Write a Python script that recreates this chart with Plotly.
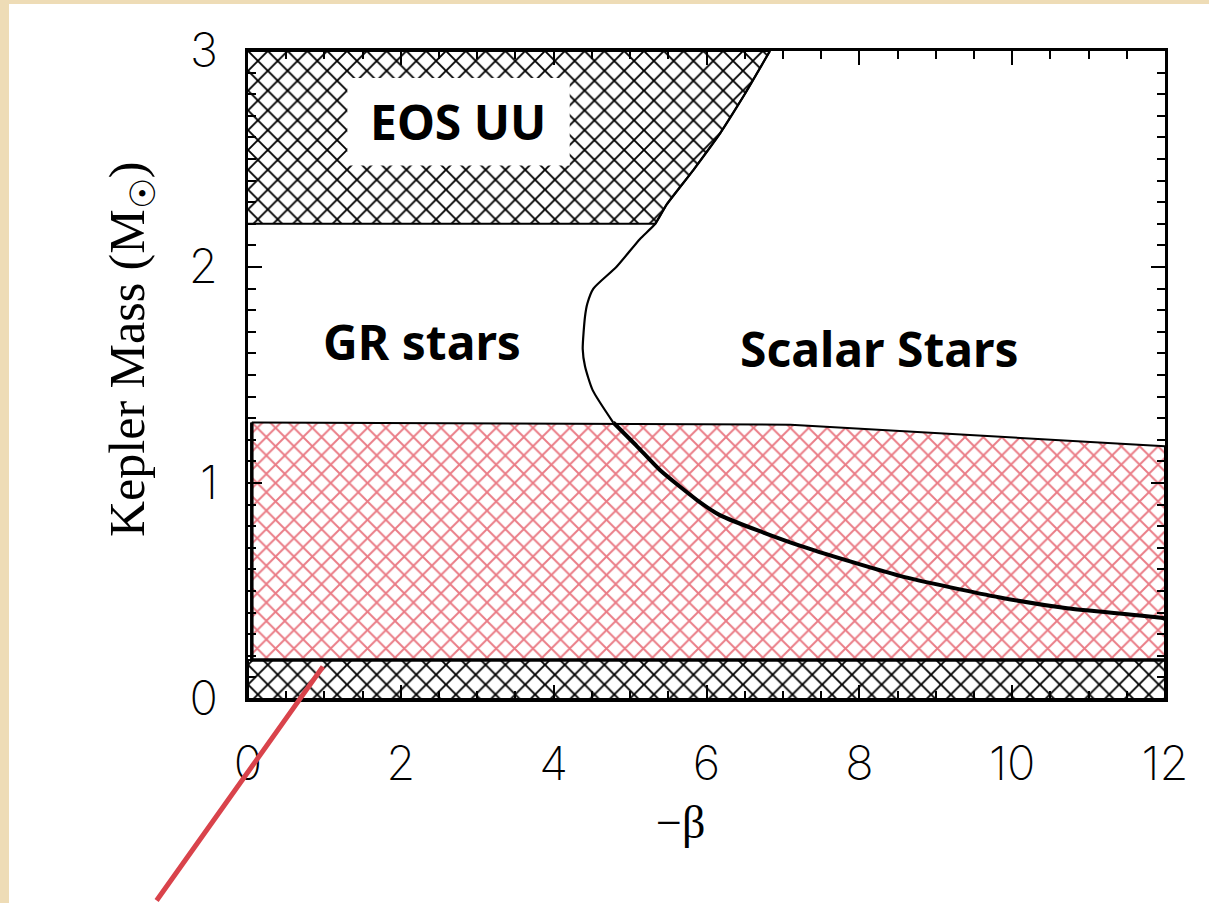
import numpy as np
import plotly.graph_objects as go

# ---- data ----
# GR / scalar-star boundary, upper (thin) branch
boundary_beta = [6.83, 6.50, 6.18, 5.83, 5.48, 5.33, 5.13, 4.82, 4.52, 4.44, 4.41, 4.38, 4.41, 4.51, 4.78]
boundary_mass = [3.00, 2.80, 2.62, 2.45, 2.29, 2.20, 2.13, 2.00, 1.90, 1.83, 1.77, 1.62, 1.54, 1.43, 1.28]
# lower (thick) branch
scalar_beta = [4.78, 5.09, 5.39, 5.88, 6.18, 7.22, 8.53, 9.84, 10.72, 11.97, 12.0]
scalar_mass = [1.28, 1.17, 1.06, 0.92, 0.85, 0.71, 0.57, 0.47, 0.42, 0.375, 0.37]
# observed-mass band (red hatch)
obs_beta_top = [0.05, 7.1, 12.0]
obs_mass_top = [1.28, 1.27, 1.17]
obs_mass_low = 0.18
# excluded by EOS (top) and lower limit (bottom band)
eos_mass_min = 2.2
eos_mass_max = 3.0
low_band_mass = 0.18

x_ticks = [0, 2, 4, 6, 8, 10, 12]
y_ticks = [0, 1, 2, 3]

# ---- figure ----
fig = go.Figure()

bb = np.array(boundary_beta)
bm = np.array(boundary_mass)
mask = bm >= eos_mass_min
eos_x = [0.0] + list(bb[mask]) + [0.0]
eos_y = [eos_mass_max] + list(bm[mask]) + [eos_mass_min]

black_pat = dict(shape="x", fgcolor="black", fgopacity=1, bgcolor="white",
                 size=14, solidity=0.25)
red_pat = dict(shape="x", fgcolor="#ea7c86", fgopacity=1, bgcolor="white",
               size=13, solidity=0.27)

# EOS UU hatched region
fig.add_trace(go.Scatter(x=eos_x, y=eos_y, mode="lines", fill="toself",
                         fillpattern=black_pat, line=dict(color="black", width=2),
                         showlegend=False, hoverinfo="skip"))
# bottom hatched band
fig.add_trace(go.Scatter(x=[0, 12, 12, 0, 0], y=[0, 0, low_band_mass, low_band_mass, 0],
                         mode="lines", fill="toself", fillpattern=black_pat,
                         line=dict(color="black", width=2),
                         showlegend=False, hoverinfo="skip"))
# red observed-mass region
rx = list(obs_beta_top) + [obs_beta_top[-1], obs_beta_top[0], obs_beta_top[0]]
ry = list(obs_mass_top) + [obs_mass_low, obs_mass_low, obs_mass_top[0]]
fig.add_trace(go.Scatter(x=rx, y=ry, mode="lines", fill="toself", fillpattern=red_pat,
                         line=dict(color="black", width=2),
                         showlegend=False, hoverinfo="skip"))
# thicker left/bottom edges of the red region
fig.add_trace(go.Scatter(x=[obs_beta_top[0], obs_beta_top[0], obs_beta_top[-1]],
                         y=[obs_mass_top[0], obs_mass_low, obs_mass_low], mode="lines",
                         line=dict(color="black", width=3.5),
                         showlegend=False, hoverinfo="skip"))
# boundary curves
fig.add_trace(go.Scatter(x=boundary_beta, y=boundary_mass, mode="lines",
                         line=dict(color="black", width=2.2, shape="spline", smoothing=0.6),
                         showlegend=False, hoverinfo="skip"))
fig.add_trace(go.Scatter(x=scalar_beta, y=scalar_mass, mode="lines",
                         line=dict(color="black", width=4, shape="spline", smoothing=0.6),
                         showlegend=False, hoverinfo="skip"))

# white box behind EOS UU
fig.add_shape(type="rect", xref="x", yref="y", x0=1.30, x1=4.21, y0=2.47, y1=2.875,
              fillcolor="white", line=dict(width=0), layer="above")
# white page over beige background
fig.add_shape(type="rect", xref="paper", yref="paper", x0=(9 - 248) / 917, x1=1.2,
              y0=-0.5, y1=(699 - 4) / 648, fillcolor="white", line=dict(width=0), layer="below")

lab_font = dict(family="Noto Sans, DejaVu Sans", size=48, color="black", weight="bold")
fig.add_annotation(x=2.75, y=2.674, xref="x", yref="y", text="EOS UU", showarrow=False,
                   font=dict(lab_font, size=48))
fig.add_annotation(x=2.28, y=1.653, xref="x", yref="y", text="GR stars", showarrow=False,
                   font=lab_font)
fig.add_annotation(x=8.27, y=1.625, xref="x", yref="y", text="Scalar Stars", showarrow=False,
                   font=lab_font)

# axis titles
title_font = dict(family="Liberation Serif, Times New Roman, serif", size=50, color="black")
fig.add_annotation(x=(97 - 248) / 917, y=(699 - 350) / 648, xref="paper", yref="paper",
                   text="Kepler Mass (M<sub>☉</sub>)", textangle=-90, showarrow=False,
                   font=title_font)
fig.add_annotation(x=(680 - 248) / 917, y=(699 - 850) / 648, xref="paper", yref="paper",
                   text="−β", showarrow=False, font=dict(title_font, size=46))

# red pointer line
fig.add_annotation(x=0.98, y=0.15, xref="x", yref="y", ax=-1.21, ay=-0.94,
                   axref="x", ayref="y", text="", showarrow=True, arrowhead=0,
                   arrowwidth=5, arrowcolor="#d9434b", standoff=0, startstandoff=0)

tick_font = dict(family="Inter, Roboto, Liberation Sans", size=47, color="black", weight=200)
fig.update_xaxes(range=[0, 12], tickvals=x_ticks, ticktext=[str(v) for v in x_ticks],
                 showline=True, linecolor="black", linewidth=2.5, mirror="ticks",
                 ticks="inside", ticklen=14, tickwidth=2, tickcolor="black",
                 minor=dict(dtick=0.5, ticks="inside", ticklen=8, tickwidth=2, tickcolor="black"),
                 showgrid=False, zeroline=False, tickfont=tick_font, ticklabelstandoff=22)
fig.update_yaxes(range=[0, 3], tickvals=y_ticks, ticktext=[str(v) for v in y_ticks],
                 showline=True, linecolor="black", linewidth=2.5, mirror="ticks",
                 ticks="inside", ticklen=14, tickwidth=2, tickcolor="black",
                 minor=dict(dtick=0.1, ticks="inside", ticklen=8, tickwidth=2, tickcolor="black"),
                 showgrid=False, zeroline=False, tickfont=tick_font, ticklabelstandoff=18)

fig.update_layout(width=1209, height=903, margin=dict(l=248, r=44, t=51, b=204),
                  paper_bgcolor="#eedcb6", plot_bgcolor="white", showlegend=False)

fig.write_html("out.html")
